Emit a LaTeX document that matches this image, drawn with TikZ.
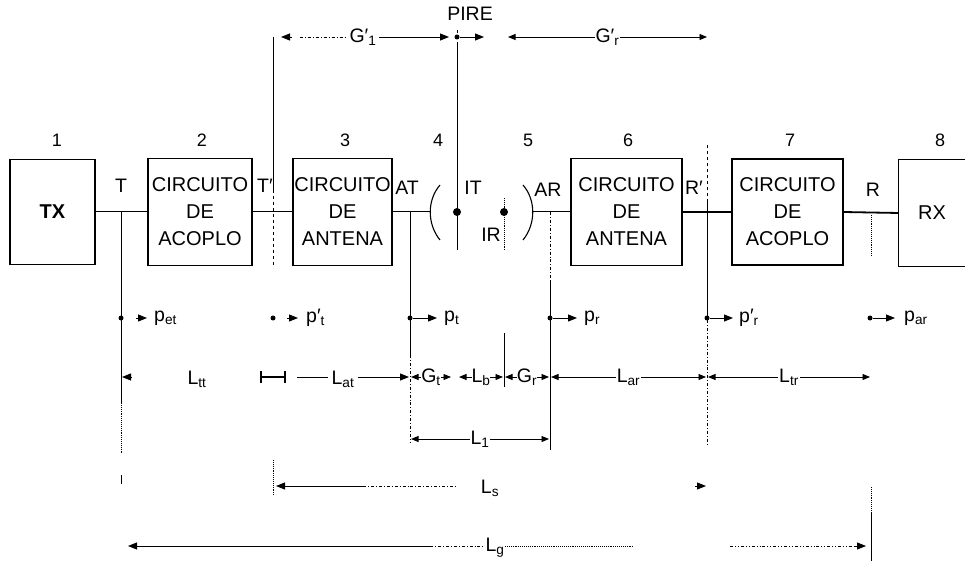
\documentclass[tikz,border=0pt]{standalone}
\usepackage{fontspec}
\setmainfont{Liberation Sans}
\usetikzlibrary{arrows.meta}
\tikzset{
  box/.style={draw, line width=1.2pt, inner sep=0pt, align=center, font=\fontsize{20}{27}\selectfont},
  lbl/.style={font=\fontsize{19.5}{22}\selectfont, inner sep=1pt},
  num/.style={font=\fontsize{18}{20}\selectfont},
  tip/.style={-{Triangle[length=9pt,width=7pt]}},
  dtip/.style={{Triangle[length=7.5pt,width=6pt]}-{Triangle[length=7.5pt,width=6pt]}},
  wire/.style={line width=1pt},
  heavywire/.style={line width=1.8pt},
  ref/.style={line width=0.9pt},
  bigdot/.style={circle, fill, inner sep=0pt, minimum size=8pt},
  smalldot/.style={circle, fill, inner sep=0pt, minimum size=5pt},
  mid/.style={lbl, fill=white, inner sep=1pt}
}
\begin{document}
\begin{tikzpicture}[x=1pt,y=-1pt]
\useasboundingbox (0,0) rectangle (965,561);

% block numbers
\foreach \n/\x in {1/57,2/202,3/345,4/438,5/528,6/628,7/790,8/940}
  \node[num] (n\n) at (\x,140) {\n};

% blocks
\node[box, font=\fontsize{20}{27}\selectfont\bfseries, minimum width=85pt, minimum height=105pt] (tx) at (52.5,212) {TX};
\node[box, minimum width=104pt, minimum height=107pt] (b2) at (200,212) {CIRCUITO\\DE\\ACOPLO};
\node[box, minimum width=99pt, minimum height=107pt] (b3) at (342.5,212) {CIRCUITO\\DE\\ANTENA};
\node[box, minimum width=111pt, minimum height=107pt] (b6) at (626.5,212) {CIRCUITO\\DE\\ANTENA};
\node[box, minimum width=111pt, minimum height=106pt] (b7) at (787.5,212) {CIRCUITO\\DE\\ACOPLO};
\node[inner sep=0pt, minimum width=66pt, minimum height=106pt, font=\fontsize{20}{27}\selectfont] (rx) at (932,213) {RX};
\draw[line width=1.2pt] (rx.north east) -- (rx.north west) -- (rx.south west) -- (rx.south east);

% antennas
\coordinate (antT) at (430.3,212);
\coordinate (antR) at (532.7,212);
\draw[line width=1.1pt] (440,185) .. controls (427,200) and (427,224) .. (440,240);
\draw[line width=1.1pt] (523,185) .. controls (536,200) and (536,224) .. (523,240);
\node[bigdot] (it) at (457,212) {};
\node[bigdot] (ir) at (504,212) {};

% wires
\draw[wire] (tx.east) -- (b2.west);
\draw[wire] (b2.east) -- (b3.west);
\draw[wire] (b3.east) -- (antT);
\draw[wire] (antR) -- (b6.west);
\draw[heavywire] (b6.east) -- (b7.west);
\draw[heavywire] (b7.east) -- (rx.west);

% point labels
\node[lbl] (lT) at (121,186) {T};
\node[lbl] (lT2) at (265,186) {T′};
\node[lbl] (lAT) at (407,188) {AT};
\node[lbl] (lIT) at (473,188) {IT};
\node[lbl] (lIR) at (491,235) {IR};
\node[lbl] (lAR) at (548,190) {AR};
\node[lbl] (lR2) at (694,188) {R′};
\node[lbl] (lR) at (873,190) {R};
\node[lbl] (pire) at (470,14) {PIRE};

% reference verticals
\draw[ref] (121,212) -- (121,403);
\draw[ref, densely dotted] (121,403) -- (121,453);
\draw[ref] (121,475) -- (121,484);
\draw[ref] (273,37) -- (273,190);
\draw[ref, dashed] (273,190) -- (273,268);
\draw[ref, densely dotted] (273,460) -- (273,495);
\draw[ref] (410,212) -- (410,355);
\draw[ref, dash dot] (410,355) -- (410,443);
\draw[ref, dashed] (457,30) -- (457,45);
\draw[ref] (457,45) -- (457,250);
\draw[ref, densely dotted] (504,198) -- (504,250);
\draw[ref] (504,333) -- (504,387);
\draw[ref, dash dot] (550,212) -- (550,280);
\draw[ref] (550,280) -- (550,450);
\draw[ref, dashed] (707,145) -- (707,200);
\draw[ref] (707,200) -- (707,320);
\draw[ref, dash dot] (707,320) -- (707,445);
\draw[ref, densely dotted] (871,215) -- (871,255);
\draw[ref, densely dotted] (871,487) -- (871,512);
\draw[ref] (871,512) -- (871,561);

% G' row
\draw[ref, tip] (292,37) -- (281,37);
\draw[ref, dash dot] (300,37) -- (345,37);
\node[lbl] (gt) at (363,37) {G′\textsubscript{1}};
\draw[ref, tip] (379,37) -- (449,37);
\node[smalldot] (pd) at (457,37) {};
\draw[ref, tip] (pd) -- (484,37);
\draw[ref, dtip] (508,37) -- node[mid] (gr) {G′\textsubscript{r}} (707,37);

% power row
\node[smalldot] (d1) at (121,318) {};
\draw[ref, tip] (136,318) -- (147,318);
\node[lbl, anchor=west] (pet) at (153,318) {p\textsubscript{et}};
\node[smalldot] (d2) at (273,318) {};
\draw[ref, tip] (287,318) -- (298,318);
\node[lbl, anchor=west] (ppt) at (305,318) {p′\textsubscript{t}};
\node[smalldot] (d3) at (410,318) {};
\draw[ref, tip] (d3) -- (437,318);
\node[lbl, anchor=west] (pt) at (443,318) {p\textsubscript{t}};
\node[smalldot] (d4) at (550,318) {};
\draw[ref, tip] (d4) -- (577,318);
\node[lbl, anchor=west] (pr) at (583,318) {p\textsubscript{r}};
\node[smalldot] (d5) at (707,318) {};
\draw[ref, tip] (d5) -- (733,318);
\node[lbl, anchor=west] (ppr) at (738,318) {p′\textsubscript{r}};
\node[smalldot] (d6) at (870,318) {};
\draw[ref, tip] (d6) -- (895,318);
\node[lbl, anchor=west] (par) at (903,318) {p\textsubscript{ar}};

% loss row
\draw[ref, tip] (132,377) -- (122,377);
\node[lbl] (ltt) at (197,379) {L\textsubscript{tt}};
\draw[line width=2.4pt] (262,377) -- (284,377);
\draw[line width=1.2pt] (261,371) -- (261,383);
\draw[line width=1.2pt] (285,371) -- (285,383);
\draw[ref] (297,377) -- (328,377);
\node[lbl] (lat) at (343,379) {L\textsubscript{at}};
\draw[ref, tip] (358,377) -- (409,377);
\draw[ref, dtip] (411,377) -- node[mid, inner sep=0pt] (glt) {G\textsubscript{t}} (451,377);
\draw[ref, dtip] (459,377) -- node[mid, inner sep=0pt] (lb) {L\textsubscript{b}} (503,377);
\draw[ref, dtip] (505,377) -- node[mid, inner sep=0pt] (glr) {G\textsubscript{r}} (549,377);
\draw[ref, dtip] (551,377) -- node[mid] (lar) {L\textsubscript{ar}} (706,377);
\draw[ref, dtip] (708,377) -- node[mid] (ltr) {L\textsubscript{tr}} (870,377);

% L1 row
\draw[ref, dtip] (411,439) -- node[mid] (l1) {L\textsubscript{1}} (549,439);

% Ls row
\draw[ref, tip] (363,486) -- (276,486);
\draw[ref, dash dot] (363,486) -- (455,486);
\node[lbl] (ls) at (490,488) {L\textsubscript{s}};
\draw[ref, tip] (695,486) -- (706,486);

% Lg row
\draw[ref, tip] (430,546) -- (128,546);
\draw[ref, dash dot] (430,546) -- (485,546);
\node[lbl] (lg) at (495,548) {L\textsubscript{g}};
\draw[ref, densely dotted] (505,546) -- (633,546);
\draw[ref, dash dot dot] (730,546) -- (855,546);
\draw[ref, tip] (855,546) -- (866,546);
\end{tikzpicture}
\end{document}
